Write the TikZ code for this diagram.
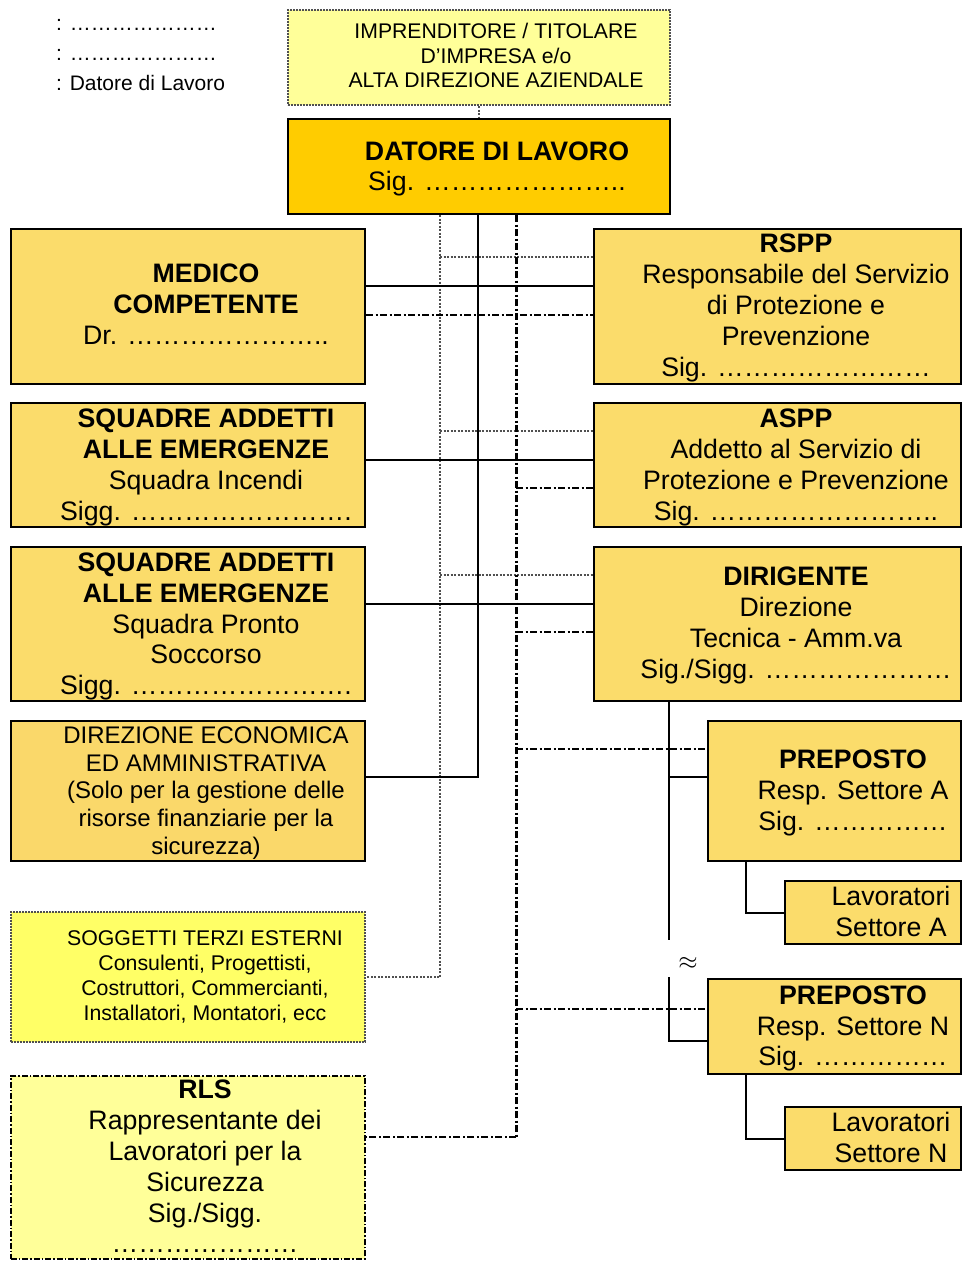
\documentclass[tikz,border=0pt]{standalone}
\usepackage{fontspec}
\setmainfont{Liberation Sans}
\ExplSyntaxOn
\cs_new:Npn \myell #1 { \prg_replicate:nn {#1} {…} }
\ExplSyntaxOff
\definecolor{mainfill}{RGB}{251,220,107}
\definecolor{datfill}{RGB}{255,204,0}
\definecolor{paleyel}{RGB}{255,255,153}
\definecolor{brightyel}{RGB}{255,255,102}
\definecolor{dirfill}{RGB}{250,216,106}
\definecolor{dotgray}{RGB}{80,80,80}
\tikzset{
  box/.style={draw, line width=2pt, fill=mainfill, inner sep=0pt, anchor=north west},
  txt/.style={align=center, inner sep=0pt, font=\fontsize{26.7}{30.8}\selectfont},
  smalltxt/.style={align=center, inner sep=0pt, font=\fontsize{21.2}{24.7}\selectfont},
  solidline/.style={line width=2pt},
  dotline/.style={line width=2pt, draw=dotgray, dash pattern=on 2pt off 1.5pt},
  dashdotline/.style={line width=2pt, dash pattern=on 7pt off 2.5pt on 2pt off 2.5pt},
}
\begin{document}
\begin{tikzpicture}[x=1pt,y=-1pt]
\useasboundingbox (0,0) rectangle (968,1262);
% legend
\node[smalltxt, align=left, anchor=west, font=\fontsize{21}{30}\selectfont] (legend) at (56,55)
  {: \myell{7}\\: \myell{7}\\: Datore di Lavoro};
% boxes
\node[box, fill=paleyel, draw=dotgray, dash pattern=on 2pt off 1pt, minimum width=382pt, minimum height=95pt] (impr) at (287,9) {};
\node[box, fill=datfill, minimum width=382pt, minimum height=95pt] (datore) at (287,118) {};
\node[box, minimum width=354pt, minimum height=155pt] (medico) at (10,228) {};
\node[box, minimum width=367pt, minimum height=155pt] (rspp) at (593,228) {};
\node[box, minimum width=354pt, minimum height=124pt] (squad1) at (10,402) {};
\node[box, minimum width=367pt, minimum height=124pt] (aspp) at (593,402) {};
\node[box, minimum width=354pt, minimum height=154pt] (squad2) at (10,546) {};
\node[box, minimum width=367pt, minimum height=154pt] (dirig) at (593,546) {};
\node[box, fill=dirfill, minimum width=354pt, minimum height=140pt] (direz) at (10,720) {};
\node[box, minimum width=253pt, minimum height=140pt] (prepA) at (707,720) {};
\node[box, minimum width=176pt, minimum height=63pt] (lavA) at (784,880) {};
\node[box, fill=brightyel, draw=dotgray, dash pattern=on 2pt off 1pt, minimum width=354pt, minimum height=130pt] (sogg) at (10,911) {};
\node[box, minimum width=253pt, minimum height=95pt] (prepN) at (707,978) {};
\node[box, minimum width=176pt, minimum height=63pt] (lavN) at (784,1106) {};
\node[box, fill=paleyel, line width=1.5pt, dash pattern=on 6pt off 2pt on 1.5pt off 2pt, minimum width=354pt, minimum height=183pt] (rls) at (10,1075) {};
% texts
\node[smalltxt] (imprT) at (496,55.5) {IMPRENDITORE / TITOLARE\\D’IMPRESA e/o\\ALTA DIREZIONE AZIENDALE};
\node[txt] (datT) at (497,169) {\bfseries DATORE DI LAVORO\\Sig. \myell{7}..};
\node[txt] (medT) at (206,304) {\bfseries MEDICO\\\bfseries COMPETENTE\\Dr. \myell{7}..};
\node[txt] (rsppT) at (796,308) {\bfseries RSPP\\Responsabile del Servizio\\di Protezione e\\Prevenzione\\Sig. \myell{8}};
\node[txt] (sq1T) at (206,467.5) {\bfseries SQUADRE ADDETTI\\\bfseries ALLE EMERGENZE\\Squadra Incendi\\Sigg. \myell{8}.};
\node[txt] (asppT) at (796,467.5) {\bfseries ASPP\\Addetto al Servizio di\\Protezione e Prevenzione\\Sig. \myell{8}..};
\node[txt] (sq2T) at (206,626.5) {\bfseries SQUADRE ADDETTI\\\bfseries ALLE EMERGENZE\\Squadra Pronto\\Soccorso\\Sigg. \myell{8}.};
\node[txt] (dirT) at (796,625.5) {\bfseries DIRIGENTE\\Direzione\\Tecnica - Amm.va\\Sig./Sigg. \myell{7}};
\node[txt, font=\fontsize{24}{27.8}\selectfont] (direzT) at (206,793) {DIREZIONE ECONOMICA\\ED AMMINISTRATIVA\\(Solo per la gestione delle\\risorse finanziarie per la\\sicurezza)};
\node[txt] (prepAT) at (853,793) {\bfseries PREPOSTO\\Resp. Settore A\\Sig. \myell{5}};
\node[txt] (lavAT) at (891,911.5) {Lavoratori\\Settore A};
\node[smalltxt, font=\fontsize{21.3}{25}\selectfont] (soggT) at (205,976.5) {SOGGETTI TERZI ESTERNI\\Consulenti, Progettisti,\\Costruttori, Commercianti,\\Installatori, Montatori, ecc};
\node[txt] (prepNT) at (853,1028.5) {\bfseries PREPOSTO\\Resp. Settore N\\Sig. \myell{5}};
\node[txt] (lavNT) at (891,1137.5) {Lavoratori\\Settore N};
\node[txt] (rlsT) at (205,1166.5) {\bfseries RLS\\Rappresentante dei\\Lavoratori per la\\Sicurezza\\Sig./Sigg.\\\myell{7}};
\node[inner sep=0pt, font=\fontsize{26}{30}\selectfont] (approx) at (688,963) {$\approx$};
% helper coordinates
\coordinate (xa) at (440,0);
\coordinate (xb) at (478,0);
\coordinate (xc) at (516,0);
\coordinate (xd) at (669,0);
\coordinate (xe) at (746,0);
\coordinate (ya1) at (0,257);
\coordinate (ya2) at (0,431);
\coordinate (ya3) at (0,575);
\coordinate (yb1) at (0,286);
\coordinate (yb2) at (0,460);
\coordinate (yb3) at (0,604);
\coordinate (yb4) at (0,777);
\coordinate (yc1) at (0,315);
\coordinate (yc2) at (0,488);
\coordinate (yc3) at (0,632);
\coordinate (yc4) at (0,749);
\coordinate (yc5) at (0,1009);
\coordinate (yc6) at (0,1137);
\coordinate (yd1) at (0,777);
\coordinate (yd2) at (0,940);
\coordinate (yd3) at (0,977);
\coordinate (yd4) at (0,1041);
% connectors
\draw[dotline, line width=1.5pt] (impr.south) -- (datore.north);
\draw[dotline] (xa |- datore.south) -- (xa |- sogg.east) -- (sogg.east);
\draw[dotline] (xa |- ya1) -- (rspp.west |- ya1);
\draw[dotline] (xa |- ya2) -- (aspp.west |- ya2);
\draw[dotline] (xa |- ya3) -- (dirig.west |- ya3);
\draw[solidline] (xb |- datore.south) -- (xb |- yb4) -- (direz.east |- yb4);
\draw[solidline] (medico.east |- yb1) -- (rspp.west |- yb1);
\draw[solidline] (squad1.east |- yb2) -- (aspp.west |- yb2);
\draw[solidline] (squad2.east |- yb3) -- (dirig.west |- yb3);
\draw[dashdotline, line width=3pt] (xc |- datore.south) -- (xc |- yc6);
\draw[dashdotline] (xc |- yc6) -- (rls.east |- yc6);
\draw[dashdotline] (medico.east |- yc1) -- (rspp.west |- yc1);
\draw[dashdotline] (xc |- yc2) -- (aspp.west |- yc2);
\draw[dashdotline] (xc |- yc3) -- (dirig.west |- yc3);
\draw[dashdotline] (xc |- yc4) -- (prepA.west |- yc4);
\draw[dashdotline] (xc |- yc5) -- (prepN.west |- yc5);
\draw[solidline] (xd |- dirig.south) -- (xd |- yd2);
\draw[solidline] (xd |- yd1) -- (prepA.west |- yd1);
\draw[solidline] (xd |- yd3) -- (xd |- yd4) -- (prepN.west |- yd4);
\draw[solidline] (xe |- prepA.south) -- (xe |- lavA.west) -- (lavA.west);
\draw[solidline] (xe |- prepN.south) -- (xe |- lavN.west) -- (lavN.west);
\end{tikzpicture}
\end{document}
